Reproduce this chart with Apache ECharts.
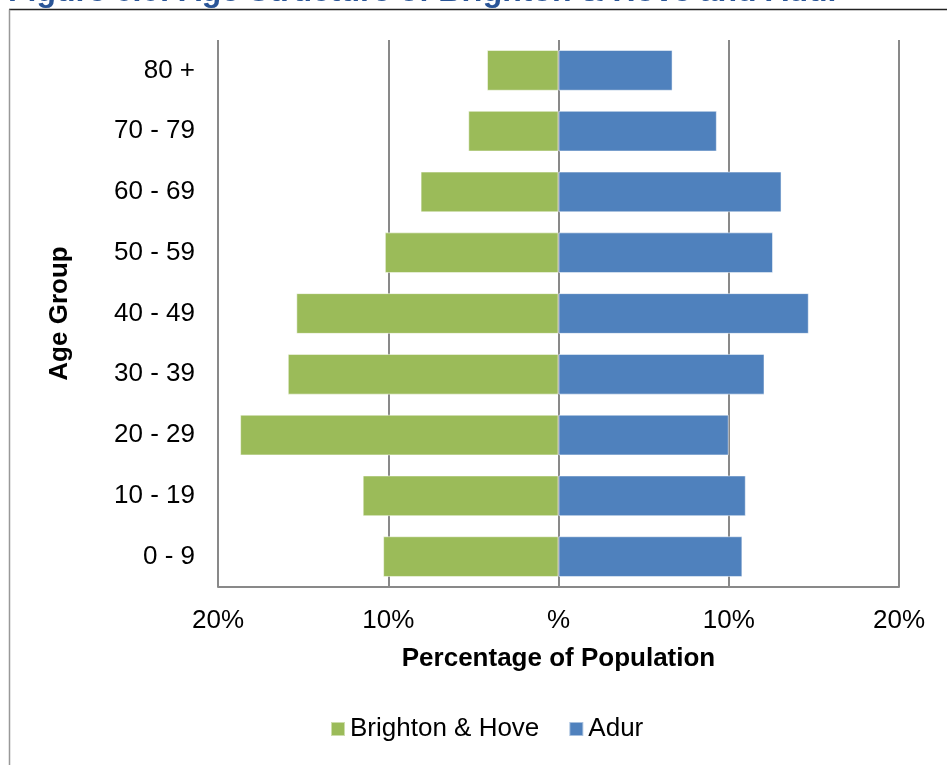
<!DOCTYPE html>
<html>
<head>
<meta charset="utf-8">
<script src="https://cdn.jsdelivr.net/npm/echarts@6/dist/echarts.min.js"></script>
<style>
  html, body { margin: 0; padding: 0; background: #fff; }
  #main { width: 947px; height: 765px; }
</style>
</head>
<body>
<div id="main"></div>
<script>
// age bands, bottom to top
const ageGroups = ['0 - 9', '10 - 19', '20 - 29', '30 - 39', '40 - 49', '50 - 59', '60 - 69', '70 - 79', '80 +'];
// % of population
const brightonHove = [10.3, 11.5, 18.7, 15.9, 15.4, 10.2, 8.1, 5.3, 4.2];
const adur = [10.8, 11.0, 10.0, 12.1, 14.7, 12.6, 13.1, 9.3, 6.7];
const xTicks = [-20, -10, 0, 10, 20];

const FONT = '"Liberation Sans", Arial, sans-serif';
const chart = echarts.init(document.getElementById('main'));

chart.setOption({
  animation: false,
  backgroundColor: '#fff',
  textStyle: { fontFamily: FONT },
  graphic: [
    {
      type: 'text', left: 8, top: -24,
      style: { text: 'Figure 6.6: Age Structure of Brighton & Hove and Adur', font: 'bold 32px ' + FONT, fill: '#2a5597' }
    },
    { type: 'line', shape: { x1: 9, y1: 9.5, x2: 947, y2: 9.5 }, style: { stroke: '#222', lineWidth: 1.5 } },
    { type: 'line', shape: { x1: 9.5, y1: 9.5, x2: 9.5, y2: 765 }, style: { stroke: '#999', lineWidth: 1.5 } }
  ],
  grid: { left: 218, right: 48, top: 40, bottom: 178 },
  legend: {
    top: 711, left: 325,
    itemWidth: 14, itemHeight: 14, itemGap: 29,
    icon: 'rect',
    textStyle: { fontSize: 26, color: '#000', fontFamily: FONT },
    data: ['Brighton & Hove', 'Adur']
  },
  xAxis: {
    type: 'value',
    min: xTicks[0], max: xTicks[xTicks.length - 1], interval: 10,
    name: 'Percentage of Population',
    nameLocation: 'middle', nameGap: 59,
    nameTextStyle: { fontSize: 26, fontWeight: 'bold', color: '#000', fontFamily: FONT },
    axisLine: { show: true, lineStyle: { color: '#898989', width: 2 } },
    axisTick: { show: false },
    axisLabel: {
      fontSize: 26, color: '#000', margin: 21, fontFamily: FONT,
      formatter: v => v === 0 ? '%' : Math.abs(v) + '%'
    },
    splitLine: { show: true, lineStyle: { color: '#898989', width: 2 } }
  },
  yAxis: {
    type: 'category',
    data: ageGroups,
    name: 'Age Group',
    nameLocation: 'middle', nameGap: 145, nameRotate: 90,
    nameTextStyle: { fontSize: 26, fontWeight: 'bold', color: '#000', fontFamily: FONT },
    axisLine: { show: false },
    axisTick: { show: false },
    axisLabel: { fontSize: 26, color: '#000', margin: 23, fontFamily: FONT },
    splitLine: { show: false }
  },
  series: [
    {
      name: 'Brighton & Hove', type: 'bar', stack: 'pop',
      barCategoryGap: '33%',
      itemStyle: { color: '#9bbb59', borderColor: 'rgba(255,255,255,0.5)', borderWidth: 1 },
      data: brightonHove.map(v => -v)
    },
    {
      name: 'Adur', type: 'bar', stack: 'pop',
      barCategoryGap: '33%',
      itemStyle: { color: '#4f81bd', borderColor: 'rgba(255,255,255,0.5)', borderWidth: 1 },
      data: adur
    }
  ]
});
</script>
</body>
</html>
